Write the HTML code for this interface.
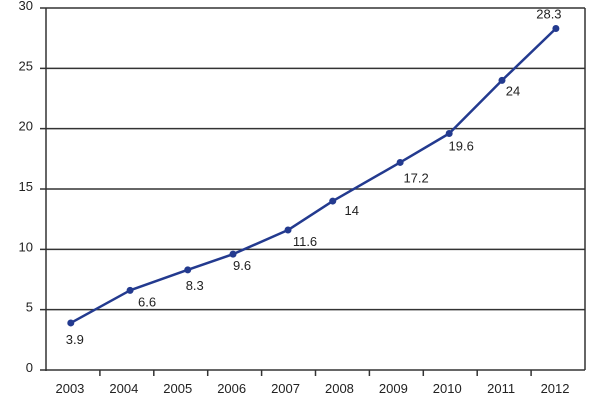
<!DOCTYPE html>
<html><head><meta charset="utf-8"><style>
body{margin:0;background:#fff}
svg text{font-family:"Liberation Sans",sans-serif;font-size:13px;fill:#222}
</style></head><body>
<svg id="c" width="600" height="400"></svg>
<script>
const years=["2003","2004","2005","2006","2007","2008","2009","2010","2011","2012"];
const xpos=[-0.04,1.06,2.13,2.97,3.99,4.82,6.07,6.98,7.96,8.96];
const values=[3.9,6.6,8.3,9.6,11.6,14,17.2,19.6,24,28.3];
const valueLabels=["3.9","6.6","8.3","9.6","11.6","14","17.2","19.6","24","28.3"];
const yTicks=[0,5,10,15,20,25,30];
const labOff=[[4,17],[17,12],[7,16],[9,12],[17,12],[19,10],[16,16],[12,13],[11,11],[-7,-14]];
const L=46,R=585,T=8,B=370,bw=(R-L)/years.length;
const X=t=>L+(t+0.5)*bw, Y=v=>B-(v/30)*(B-T);
const svg=document.getElementById('c'),NS='http://www.w3.org/2000/svg';
function mk(tag,a,p){const e=document.createElementNS(NS,tag);for(const k in a)e.setAttribute(k,a[k]);(p||svg).appendChild(e);return e;}
yTicks.forEach(v=>{
 const g=mk('line',{x1:40,x2:R,y1:Y(v),y2:Y(v),stroke:'#333','stroke-width':1.5});
 
 
 const t=mk('text',{x:33,y:Y(v)+2,'text-anchor':'end'});t.textContent=v;
 
 
});
const ax=mk('line',{x1:L,x2:L,y1:T,y2:B+1,stroke:'#333','stroke-width':1.5});


const rb=mk('line',{x1:R,x2:R,y1:T,y2:B,stroke:'#333','stroke-width':1.5});


years.forEach((y,i)=>{
 if(i>0){const tk=mk('line',{x1:L+i*bw,x2:L+i*bw,y1:B,y2:B+6,stroke:'#333','stroke-width':1.5});
 
 }
 const t=mk('text',{x:X(i)-3,y:393,'text-anchor':'middle'});t.textContent=y;
 
 
});
const line=mk('polyline',{points:values.map((v,i)=>X(xpos[i])+','+Y(v)).join(' '),fill:'none',stroke:'#233a8f','stroke-width':2.5,'stroke-linejoin':'round'});


values.forEach((v,i)=>{
 const c=mk('circle',{cx:X(xpos[i]),cy:Y(v),r:3.5,fill:'#233a8f'});
 
 
 const t=mk('text',{x:X(xpos[i])+labOff[i][0],y:Y(v)+labOff[i][1]+4,'text-anchor':'middle'});
 t.textContent=valueLabels[i];
 
 
});
</script>
</body></html>
